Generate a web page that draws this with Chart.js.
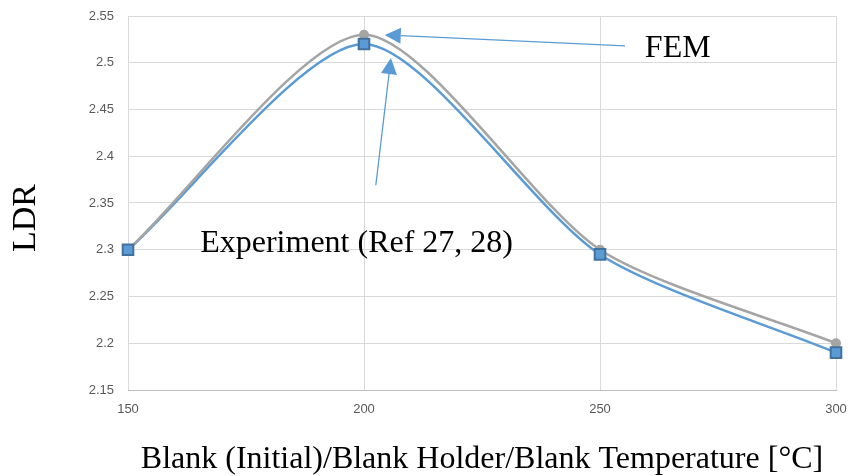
<!DOCTYPE html>
<html>
<head>
<meta charset="utf-8">
<script src="https://cdn.jsdelivr.net/npm/chart.js@4.4.1/dist/chart.umd.min.js"></script>
<style>
html,body{margin:0;padding:0;background:#fff}
#wrap{width:849px;height:476px;position:relative}
</style>
</head>
<body>
<div id="wrap"><canvas id="ldrChart"></canvas></div>
<script>

/* =====================================================
DATA
===================================================== */

const temps=[150,200,250,300]
const femLdr=[2.3,2.53,2.3,2.2]
const expLdr=[2.3,2.52,2.295,2.19]

const xTicks=[150,200,250,300]
const yTicks=[2.15,2.2,2.25,2.3,2.35,2.4,2.45,2.5,2.55]

// callouts, placed in data units: [text,textX,textY,tailX,tailY,tipX,tipY]
const femNote=["FEM",259.5,2.506,255.3,2.518,204.4,2.5297]
const expNote=["Experiment (Ref 27, 28)",165.3,2.298,202.5,2.369,205.7,2.505]

const blue="#5b9bd5"
const gray="#a5a5a5"


/* =====================================================
CALLOUT + Y TITLE PLUGIN
===================================================== */

function drawArrow(ctx,x1,y1,x2,y2){
const ang=Math.atan2(y2-y1,x2-x1)
const len=16,half=8
const bx=x2-len*Math.cos(ang)
const by=y2-len*Math.sin(ang)
ctx.beginPath()
ctx.moveTo(x1,y1)
ctx.lineTo(bx,by)
ctx.stroke()
ctx.beginPath()
ctx.moveTo(x2,y2)
ctx.lineTo(bx+half*Math.sin(ang),by-half*Math.cos(ang))
ctx.lineTo(bx-half*Math.sin(ang),by+half*Math.cos(ang))
ctx.closePath()
ctx.fill()
}

const callouts={
id:"callouts",
afterDraw(chart){
const ctx=chart.ctx
const x=chart.scales.x
const y=chart.scales.y
ctx.save()
ctx.strokeStyle=blue
ctx.fillStyle=blue
ctx.lineWidth=1.3
;[femNote,expNote].forEach(n=>{
drawArrow(ctx,x.getPixelForValue(n[3]),y.getPixelForValue(n[4]),x.getPixelForValue(n[5]),y.getPixelForValue(n[6]))
})
ctx.fillStyle="#000"
ctx.font="32px 'Liberation Serif'"
ctx.textBaseline="alphabetic"
ctx.textAlign="left"
;[femNote,expNote].forEach(n=>{
ctx.fillText(n[0],x.getPixelForValue(n[1]),y.getPixelForValue(n[2]))
})

// y axis title, sits a little below the middle of the axis
ctx.translate(35,218)
ctx.rotate(-Math.PI/2)
ctx.textAlign="center"
ctx.font="34px 'Liberation Serif'"
ctx.fillText("LDR",0,0)
ctx.restore()
}
}


/* =====================================================
LDR CHART
===================================================== */

const toPts=arr=>temps.map((t,i)=>({x:t,y:arr[i]}))
const curveTension=0.25

new Chart(document.getElementById("ldrChart"),{
type:"line",
data:{
datasets:[
{
label:"Experiment line",
data:toPts(expLdr),
borderColor:blue,
borderWidth:2.5,
pointRadius:0,
tension:curveTension,
clip:false,
order:3
},
{
label:"FEM",
data:toPts(femLdr),
borderColor:gray,
backgroundColor:gray,
borderWidth:2.5,
pointRadius:5,
pointBorderWidth:0,
tension:curveTension,
clip:false,
order:2
},
{
label:"Experiment",
data:toPts(expLdr),
showLine:false,
pointStyle:"rect",
pointRadius:7.5,
pointBackgroundColor:blue,
pointBorderColor:"#41719c",
pointBorderWidth:2,
clip:false,
order:1
}
]
},
plugins:[callouts],
options:{
responsive:true,
maintainAspectRatio:false,
animation:false,
layout:{padding:{top:16,right:13,left:0,bottom:0}},
plugins:{legend:{display:false},tooltip:{enabled:false}},
scales:{
x:{
type:"linear",
min:xTicks[0],
max:xTicks[xTicks.length-1],
afterBuildTicks:s=>{s.ticks=xTicks.map(v=>({value:v}))},
afterFit:s=>{s.height=86;s.paddingLeft=0;s.paddingRight=0},
grid:{color:"#d9d9d9",drawTicks:false},
border:{color:"#bfbfbf"},
ticks:{padding:12,color:"#595959",font:{family:"'Liberation Sans'",size:13}},
title:{
display:true,
text:"Blank (Initial)/Blank Holder/Blank Temperature [°C]",
color:"#000",
font:{family:"'Liberation Serif'",size:32,lineHeight:1},
padding:{top:0,bottom:0}
}
},
y:{
min:yTicks[0],
max:yTicks[yTicks.length-1],
afterBuildTicks:s=>{s.ticks=yTicks.map(v=>({value:v}))},
afterFit:s=>{s.width=128;s.paddingTop=0;s.paddingBottom=0},
grid:{color:"#d9d9d9",drawTicks:false},
border:{display:false},
ticks:{
padding:14,
color:"#595959",
font:{family:"'Liberation Sans'",size:13},
callback:v=>String(Number(v.toFixed(2)))
}
}
}
}
})

</script>
</body>
</html>
